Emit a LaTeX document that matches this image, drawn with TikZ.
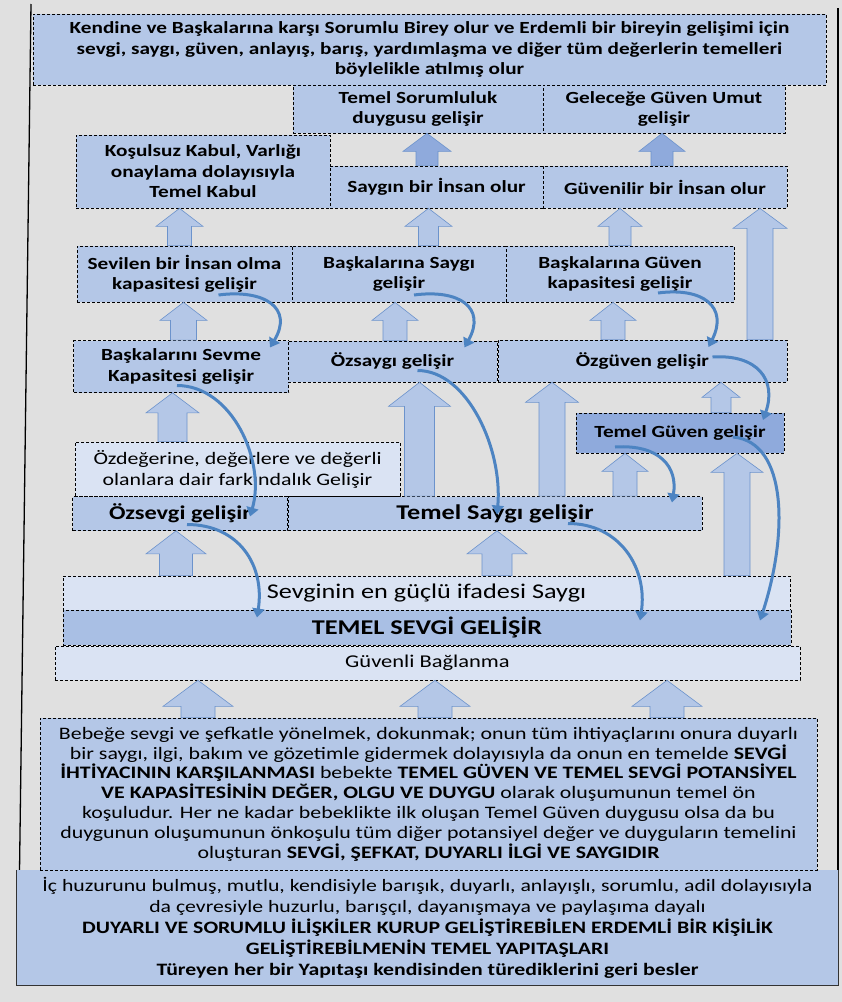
\documentclass[tikz,border=0pt]{standalone}
\usepackage{fontspec}
\setmainfont{Carlito}[FakeStretch=1.25]
\usetikzlibrary{arrows.meta,calc}

\definecolor{pagegray}{HTML}{E0E0E0}
\definecolor{boxblue}{HTML}{B4C7E7}
\definecolor{paleblue}{HTML}{DAE3F3}
\definecolor{deepblue}{HTML}{8FAADC}
\definecolor{midblue}{HTML}{A9BFE4}
\definecolor{arrline}{HTML}{6C93CC}
\definecolor{curveblue}{HTML}{4D84C2}

\begin{document}
\begin{tikzpicture}[x=1pt,y=-1pt,
  bx/.style={draw=black,dash pattern=on 3pt off 2pt,line width=.7pt,fill=boxblue,
    align=center,inner sep=1pt,font=\fontsize{17}{20.5}\selectfont\bfseries},
  pale/.style={bx,fill=paleblue,font=\fontsize{17.5}{21}\selectfont},
  big/.style={font=\fontsize{21}{22}\selectfont\bfseries},
  barrow/.style n args={4}{draw=arrline,fill=boxblue,line width=.6pt,
    to path={let \p1=(\tikztostart.north),\p2=(\tikztotarget.south) in
      ({(#1-#2)*1pt},\y1) -- ({(#1-#2)*1pt},{\y2-#4pt}) -- ({(#1-#3)*1pt},{\y2-#4pt})
      -- ({#1*1pt},\y2) -- ({(#1+#3)*1pt},{\y2-#4pt}) -- ({(#1+#2)*1pt},{\y2-#4pt})
      -- ({(#1+#2)*1pt},\y1) -- cycle}},
  carrow/.style={draw=curveblue,line width=3pt,-{Triangle[length=9pt,width=12pt]}}]

\fill[pagegray] (0,0) rectangle (842,1002);
\useasboundingbox (0,0) rectangle (842,1002);

% frame
\draw[line width=1.3pt] (31,4) -- (18,985);
\draw[line width=1.6pt] (838,8) -- (838,985);

% boxes, top to bottom
\node[bx,minimum width=793pt,minimum height=71pt] (ziel) at (429.5,49.5)
  {Kendine ve Başkalarına karşı Sorumlu Birey olur ve Erdemli bir bireyin gelişimi için\\
   sevgi, saygı, güven, anlayış, barış, yardımlaşma ve diğer tüm değerlerin temelleri\\
   böylelikle atılmış olur};
\node[bx,minimum width=250pt,minimum height=48pt] (tsor) at (418,109) {Temel Sorumluluk\\ duygusu gelişir};
\node[bx,minimum width=242pt,minimum height=48pt] (umut) at (664,109) {Geleceğe Güven Umut\\ gelişir};
\node[bx,minimum width=254pt,minimum height=73pt] (kabul) at (203,171.5) {Koşulsuz Kabul, Varlığı\\ onaylama dolayısıyla\\ Temel Kabul};
\node[bx,minimum width=213pt,minimum height=42pt] (saygin) at (436.5,187) {Saygın bir İnsan olur};
\node[bx,minimum width=244pt,minimum height=42pt] (guvenilir) at (665,187) {Güvenilir bir İnsan olur};

\node[bx,minimum width=215pt,minimum height=56pt] (sevilen) at (184.5,274) {Sevilen bir İnsan olma\\ kapasitesi gelişir};
\node[bx,minimum width=214pt,minimum height=56pt] (bsaygi) at (399,274) {Başkalarına Saygı\\ gelişir};
\node[bx,minimum width=228pt,minimum height=56pt] (bguven) at (620,274) {Başkalarına Güven\\ kapasitesi gelişir};

\node[bx,minimum width=215pt,minimum height=52pt] (sevme) at (181,366.5) {Başkalarını Sevme\\ Kapasitesi gelişir};
\node[bx,minimum width=209pt,minimum height=41pt] (ozsaygi) at (392.5,361.5) {Özsaygı gelişir};
\node[bx,minimum width=289pt,minimum height=42pt] (ozguven) at (642.5,361) {Özgüven gelişir};

\node[bx,fill=deepblue,minimum width=208pt,minimum height=40pt] (tguven) at (680,433) {Temel Güven gelişir};
\node[pale,minimum width=325pt,minimum height=54pt] (ozdeger) at (237.5,469) {Özdeğerine, değerlere ve değerli\\ olanlara dair farkındalık Gelişir};
\node[bx,font=\fontsize{19.5}{22}\selectfont\bfseries,minimum width=215pt,minimum height=34pt] (ozsevgi) at (180,513.5) {Özsevgi gelişir};
\node[bx,big,minimum width=414pt,minimum height=34pt] (tsaygi) at (495,513.5) {Temel Saygı gelişir};

\node[pale,font=\fontsize{21}{22}\selectfont,minimum width=727pt,minimum height=34pt] (ifade) at (426.5,593) {Sevginin en güçlü ifadesi Saygı};
\node[bx,big,fill=midblue,minimum width=728pt,minimum height=35pt] (tsevgi) at (427,627.5) {TEMEL SEVGİ GELİŞİR};
\node[pale,font=\fontsize{18}{20}\selectfont,minimum width=745pt,minimum height=34pt] (baglanma) at (427.5,663) {Güvenli Bağlanma};

\node[fill=boxblue,minimum width=821pt,minimum height=115pt,align=center,inner sep=1pt,
  font=\fontsize{17.4}{21}\selectfont] (temel) at (427.5,927.5)
  {İç huzurunu bulmuş, mutlu, kendisiyle barışık, duyarlı, anlayışlı, sorumlu, adil dolayısıyla\\
   da çevresiyle huzurlu, barışçıl, dayanışmaya ve paylaşıma dayalı\\
   \textbf{DUYARLI VE SORUMLU İLİŞKİLER KURUP GELİŞTİREBİLEN ERDEMLİ BİR KİŞİLİK}\\
   \textbf{GELİŞTİREBİLMENİN TEMEL YAPITAŞLARI}\\
   \textbf{Türeyen her bir Yapıtaşı kendisinden türediklerini geri besler}};
\draw[line width=1.2pt,draw=black!80] (temel.north west) -- (temel.south west) -- (temel.south east) -- (temel.north east);
\node[bx,font=\fontsize{17.5}{19.8}\selectfont,minimum width=777pt,minimum height=152pt] (bebek) at (428.5,794)
  {Bebeğe sevgi ve şefkatle yönelmek, dokunmak; onun tüm ihtiyaçlarını onura duyarlı\\
   bir saygı, ilgi, bakım ve gözetimle gidermek dolayısıyla da onun en temelde \textbf{SEVGİ}\\
   \textbf{İHTİYACININ KARŞILANMASI} bebekte \textbf{TEMEL GÜVEN VE TEMEL SEVGİ POTANSİYEL}\\
   \textbf{VE KAPASİTESİNİN DEĞER, OLGU VE DUYGU} olarak oluşumunun temel ön\\
   koşuludur. Her ne kadar bebeklikte ilk oluşan Temel Güven duygusu olsa da bu\\
   duygunun oluşumunun önkoşulu tüm diğer potansiyel değer ve duyguların temelini\\
   oluşturan \textbf{SEVGİ, ŞEFKAT, DUYARLI İLGİ VE SAYGIDIR}};

% block arrows
\draw[barrow={427}{11}{24}{18},fill=deepblue] (saygin) to (tsor);
\draw[barrow={662}{11}{23}{18},fill=deepblue] (guvenilir) to (umut);
\draw[barrow={179.5}{12}{23.5}{18}] (sevilen) to (kabul);
\draw[barrow={428.5}{10}{23.5}{18}] (bsaygi) to (saygin);
\draw[barrow={620}{11}{22}{18}] (bguven) to (guvenilir);
\draw[barrow={760}{13}{27}{20}] (ozguven) to (guvenilir);
\draw[barrow={183.5}{13}{23.5}{18}] (sevme) to (sevilen);
\draw[barrow={395}{12}{23}{18}] (ozsaygi) to (bsaygi);
\draw[barrow={613}{12}{23}{18}] (ozguven) to (bguven);
\draw[barrow={172.5}{14.5}{26.5}{20}] (ozdeger) to (sevme);
\draw[barrow={419.5}{15}{31}{24}] (tsaygi) to (ozsaygi);
\draw[barrow={552}{13}{26.5}{20}] (tsaygi) to (ozguven);
\draw[barrow={721}{10}{19}{15}] (tguven) to (ozguven);
\draw[barrow={625}{12}{23}{18}] (tsaygi) to (tguven);
\draw[barrow={737}{13}{26}{19}] (ifade) to (tguven);
\draw[barrow={176}{16.5}{30}{23}] (ifade) to (ozsevgi);
\draw[barrow={497}{15}{30}{23}] (ifade) to (tsaygi);
\draw[barrow={198}{17}{35}{26}] (bebek) to (baglanma);
\draw[barrow={435}{17}{35}{26}] (bebek) to (baglanma);
\draw[barrow={667}{17}{35}{26}] (bebek) to (baglanma);

% curved arrows
\draw[carrow] ([shift={(34,21)}]sevilen.center) .. controls +(45,-6) and +(24,-40) .. ([shift={(89,-19)}]sevme.center);
\draw[carrow] ([shift={(15,21)}]bsaygi.center) .. controls +(45,-6) and +(22,-40) .. ([shift={(72,-14)}]ozsaygi.center);
\draw[carrow] ([shift={(38,19)}]bguven.center) .. controls +(45,-6) and +(20,-40) .. ([shift={(66,-14)}]ozguven.center);
\draw[carrow] ([shift={(70,-4)}]ozguven.center) .. controls +(45,-3) and +(14,-40) .. ([shift={(83,-13)}]tguven.center);
\draw[carrow] ([shift={(-4,19)}]sevme.center) .. controls +(55,0) and +(16,-55) .. ([shift={(70,3)}]ozsevgi.center);
\draw[carrow] ([shift={(25,9)}]ozsaygi.center) .. controls +(50,0) and +(6,-65) .. ([shift={(2,1)}]tsaygi.center);
\draw[carrow] ([shift={(-65,14)}]tguven.center) .. controls +(45,-3) and +(6,-35) .. ([shift={(177,-11)}]tsaygi.center);
\draw[carrow] ([shift={(53,4)}]tguven.center) .. controls +(55,5) and +(28,-85) .. ([shift={(333,-7)}]tsevgi.center);
\draw[carrow] ([shift={(7,11)}]ozsevgi.center) .. controls +(52,0) and +(8,-52) .. ([shift={(-170,-10)}]tsevgi.center);
\draw[carrow] ([shift={(73,10)}]tsaygi.center) .. controls +(52,0) and +(8,-52) .. ([shift={(213,-7)}]tsevgi.center);
\end{tikzpicture}
\end{document}
